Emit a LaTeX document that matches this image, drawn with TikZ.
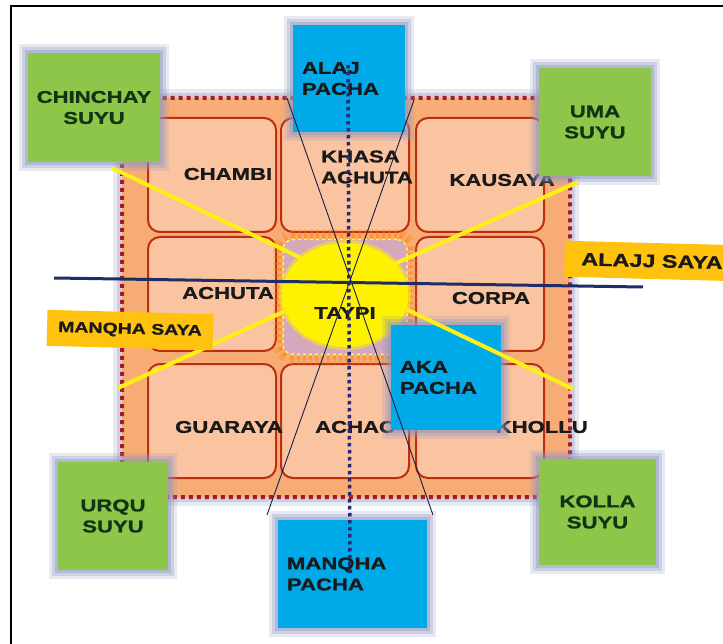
\documentclass[tikz,border=0pt]{standalone}
\usepackage{fontspec}
\setmainfont{Liberation Sans}[FakeStretch=1.3,BoldFeatures={FakeBold=1.2}]
\usepackage{tikz}
\usetikzlibrary{shapes.geometric}
\definecolor{suyugreen}{RGB}{141,198,72}
\definecolor{suyutext}{RGB}{20,50,20}
\definecolor{pachablue}{RGB}{0,170,232}
\definecolor{sayagold}{RGB}{255,194,14}
\definecolor{cellfill}{RGB}{250,196,160}
\definecolor{cellline}{RGB}{190,45,15}
\definecolor{groundfill}{RGB}{247,172,118}
\definecolor{borderred}{RGB}{165,25,45}
\definecolor{halo}{RGB}{140,150,190}
\definecolor{navy}{RGB}{30,45,105}
\definecolor{dotnavy}{RGB}{40,40,120}
\definecolor{taypilav}{RGB}{214,168,190}
\definecolor{rayyellow}{RGB}{255,240,20}
\definecolor{inktext}{RGB}{25,25,25}
\tikzset{
	glow/.style={preaction={draw=halo,line width=18,opacity=.2,rounded corners=6},preaction={draw=halo,line width=12,opacity=.3,rounded corners=4},preaction={draw=halo,line width=6,opacity=.4}},
	suyu/.style={rectangle,fill=suyugreen,text=suyutext,align=center,inner sep=0,glow},
	pacha/.style={rectangle,fill=pachablue,text=inktext,align=left,inner xsep=9,inner ysep=0,glow},
	saya/.style={rectangle,fill=sayagold,text=inktext,inner sep=0,rotate=-1.5}
}

\begin{document}
\begin{tikzpicture}[x=1pt,y=-1pt,font=\bfseries\fontsize{17}{21}\selectfont]
				\useasboundingbox (0,0) rectangle (723,644);
				\draw [line width=2] (11,650) |- (730,6);
				\path [draw=halo,line width=18,opacity=.2,rounded corners=22] (122,98) rectangle (570,497);
				\path [draw=halo,line width=10,opacity=.3,rounded corners=18] (122,98) rectangle (570,497);
				\fill [groundfill,rounded corners=18] (122,98) rectangle (570,497);
				\draw [borderred,line width=4,dash pattern=on 4 off 4,rounded corners=18] (122,98) rectangle (570,497);
				\begin{scope}[every node/.style={rectangle,rounded corners=12,draw=cellline,line width=2,fill=cellfill,minimum width=128,minimum height=114}]
				\node (cNW) at (212,175) {};
				\node (cN) at (345,175) {};
				\node (cNE) at (480,175) {};
				\node (cW) at (212,294) {};
				\node (cE) at (480,294) {};
				\node (cSW) at (212,421) {};
				\node (cS) at (345,421) {};
				\node (cSE) at (480,421) {};
				\end{scope}
				\begin{scope}[every node/.style={text=inktext}]
				\node (lchambi) at (228,174) {CHAMBI};
				\node (lkhasa) at (367,167) [align=left] {KHASA\\ACHUTA};
				\node (lkausaya) at (502,180) {KAUSAYA};
				\node (lachuta) at (228,293) {ACHUTA};
				\node (lcorpa) at (491,298) {CORPA};
				\node (lguaraya) at (229,427) {GUARAYA};
				\node (lachac) at (315,427) [anchor=west,inner xsep=0] {ACHAC};
				\node (lkhollu) at (588,427) [anchor=east,inner xsep=0] {KHOLLU};
				\end{scope}
				\node (plaza) at (345,297) [rectangle,rounded corners=10,fill=taypilav,draw=yellow!60!white,dashed,line width=1.5,minimum width=124,minimum height=115,preaction={draw=orange,line width=20,opacity=.3,rounded corners=16},preaction={draw=orange,line width=10,opacity=.3}] {};
				\node (taypi) at (345,295) [ellipse,fill=yellow,minimum width=126,minimum height=104,preaction={draw=yellow,line width=6,opacity=.5}] {};
				\node (ltaypi) at (345,313) [text=inktext] {TAYPI};
				\node (chinchay) at (94,107.5) [suyu,minimum width=132,minimum height=109] {CHINCHAY\\SUYU};
				\node (uma) at (595,122) [suyu,minimum width=112,minimum height=108] {UMA\\SUYU};
				\node (urqu) at (113,516) [suyu,minimum width=110,minimum height=108] {URQU\\SUYU};
				\node (kolla) at (597.5,512) [suyu,minimum width=117,minimum height=106] {KOLLA\\SUYU};
				\node (alaj) at (349,78.5) [pacha,text width=94,minimum height=107] {ALAJ\\PACHA};
				\node (aka) at (446,377.5) [pacha,text width=92,minimum height=105] {AKA\\PACHA};
				\node (manqha) at (352.5,574) [pacha,text width=131,minimum height=108] {MANQHA\\PACHA};
				\coordinate (nw) at (112,168);
				\coordinate (sw) at (118,388);
				\coordinate (ne) at (578,182);
				\coordinate (se) at (573,389);
				\begin{scope}[every edge/.style={draw=rayyellow,line width=4}]
				\path (nw) edge (taypi.140);
				\path (sw) edge (taypi.195);
				\path (ne) edge (taypi.32);
				\path (se) edge (taypi.347);
				\end{scope}
				\node (alajj) at (652,261) [saya,minimum width=175,minimum height=36,font=\bfseries\fontsize{18}{21}\selectfont] {ALAJJ SAYA};
				\node (manqhasaya) at (130,330) [saya,minimum width=166,minimum height=36,font=\bfseries\fontsize{15}{18}\selectfont] {MANQHA SAYA};
				\coordinate (tl) at (287,98);
				\coordinate (tr) at (414,100);
				\coordinate (bl) at (267,515);
				\coordinate (br) at (433,515);
				\coordinate (wend) at (54,278);
				\coordinate (eend) at (643,287);
				\coordinate (up) at (348,65);
				\coordinate (down) at (350,575);
				\path [draw=navy!70!black,line width=0.9] (tl) -- (br) (tr) -- (bl);
				\draw [navy,line width=3] (wend) -- (eend);
				\draw [dotnavy,line width=3.5,dash pattern=on 3.5 off 3.5] (up) -- (down);
				\end{tikzpicture}
\end{document}
